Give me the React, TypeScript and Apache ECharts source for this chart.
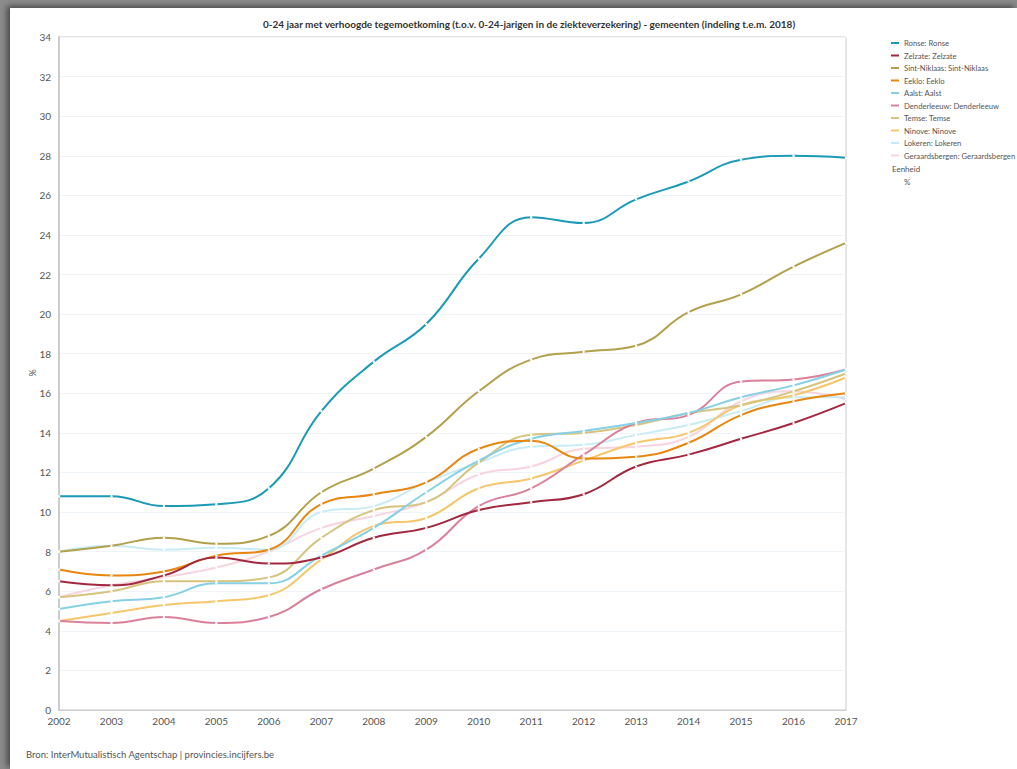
import React, { useEffect, useRef } from "react";
import * as echarts from "echarts";

const years = ["2002","2003","2004","2005","2006","2007","2008","2009","2010","2011","2012","2013","2014","2015","2016","2017"];

const ronse = [10.8, 10.8, 10.3, 10.4, 11.2, 15.1, 17.6, 19.5, 22.8, 24.9, 24.6, 25.8, 26.7, 27.8, 28.0, 27.9];
const zelzate = [6.5, 6.3, 6.8, 7.7, 7.4, 7.7, 8.7, 9.2, 10.1, 10.5, 10.9, 12.3, 12.9, 13.7, 14.5, 15.5];
const sintNiklaas = [8.0, 8.3, 8.7, 8.4, 8.8, 11.0, 12.2, 13.8, 16.1, 17.7, 18.1, 18.4, 20.1, 21.0, 22.4, 23.6];
const eeklo = [7.1, 6.8, 7.0, 7.8, 8.1, 10.4, 10.9, 11.5, 13.2, 13.6, 12.7, 12.8, 13.5, 14.9, 15.6, 16.0];
const aalst = [5.1, 5.5, 5.7, 6.4, 6.4, 7.8, 9.2, 11.0, 12.6, 13.7, 14.1, 14.5, 15.0, 15.8, 16.4, 17.2];
const denderleeuw = [4.5, 4.4, 4.7, 4.4, 4.7, 6.1, 7.1, 8.1, 10.3, 11.2, 12.9, 14.5, 14.9, 16.6, 16.7, 17.2];
const temse = [5.7, 6.0, 6.5, 6.5, 6.7, 8.7, 10.1, 10.5, 12.5, 13.9, 14.0, 14.4, 15.0, 15.4, 16.1, 17.0];
const ninove = [4.5, 4.9, 5.3, 5.5, 5.8, 7.6, 9.3, 9.7, 11.2, 11.7, 12.6, 13.5, 14.0, 15.4, 15.9, 16.8];
const lokeren = [8.0, 8.3, 8.1, 8.2, 8.1, 10.0, 10.3, 11.5, 12.5, 13.3, 13.4, 13.9, 14.4, 15.1, 15.8, 15.8];
const geraardsbergen = [5.7, 6.3, 6.7, 7.2, 8.0, 9.2, 9.8, 10.5, 11.9, 12.3, 13.2, 13.3, 13.8, 15.6, 16.1, 15.7];

const seriesNames = [
  "Ronse: Ronse",
  "Zelzate: Zelzate",
  "Sint-Niklaas: Sint-Niklaas",
  "Eeklo: Eeklo",
  "Aalst: Aalst",
  "Denderleeuw: Denderleeuw",
  "Temse: Temse",
  "Ninove: Ninove",
  "Lokeren: Lokeren",
  "Geraardsbergen: Geraardsbergen",
];
const seriesData = [ronse, zelzate, sintNiklaas, eeklo, aalst, denderleeuw, temse, ninove, lokeren, geraardsbergen];
const colors = ["#1a9ab6", "#a3283f", "#b2a04a", "#e8860f", "#86d0e6", "#d9809a", "#d6c47e", "#f6c66a", "#c8ecf5", "#f8d4de"];

const title = "0-24 jaar met verhoogde tegemoetkoming (t.o.v. 0-24-jarigen in de ziekteverzekering) - gemeenten (indeling t.e.m. 2018)";
const source = "Bron: InterMutualistisch Agentschap | provincies.incijfers.be";
const yName = "%";

const FONT = "Lato, 'Open Sans', sans-serif";

export default function App() {
  const ref = useRef<HTMLDivElement>(null);
  useEffect(() => {
    if (!ref.current) return;
    const chart = echarts.init(ref.current, undefined, { renderer: "svg" });
    chart.setOption({
      animation: false,
      backgroundColor: "#ffffff",
      textStyle: { fontFamily: FONT },
      title: {
        text: title,
        left: 514,
        top: 6,
        textAlign: "center",
        textStyle: { fontSize: 10, fontWeight: "bold", color: "#333", fontFamily: FONT },
      },
      grid: { left: 49, right: 171, top: 29, bottom: 59, show: true, borderColor: "#cccccc", borderWidth: 1, backgroundColor: "transparent" },
      legend: {
        orient: "vertical",
        left: 881,
        top: 31,
        padding: 0,
        itemWidth: 8,
        itemHeight: 2,
        itemGap: 4.5,
        icon: "rect",
        textStyle: { fontSize: 7.7, color: "#555", fontFamily: FONT },
        data: seriesNames.map((n, i) => ({ name: n, itemStyle: { color: colors[i] } })),
      },
      graphic: [
        { type: "text", left: 882, top: 157, style: { text: "Eenheid", fontSize: 8, fill: "#555", fontFamily: FONT } },
        { type: "text", left: 894, top: 170, style: { text: "%", fontSize: 8, fill: "#555", fontFamily: FONT } },
        { type: "text", left: 16, top: 741, style: { text: source, fontSize: 9.5, fill: "#555", fontFamily: FONT } },
        {
          type: "text",
          x: 22,
          y: 365,
          rotation: Math.PI / 2,
          style: { text: yName, fontSize: 9, fill: "#555", fontFamily: FONT, align: "center", verticalAlign: "middle" },
        },
      ],
      xAxis: {
        type: "category",
        data: years,
        boundaryGap: false,
        axisLine: { show: true, lineStyle: { color: "#cccccc" } },
        axisTick: { show: false },
        axisLabel: { fontSize: 10, color: "#555", margin: 6, fontFamily: FONT },
        splitLine: { show: false },
      },
      yAxis: {
        type: "value",
        min: 0,
        max: 34,
        interval: 2,
        axisLine: { show: true, lineStyle: { color: "#cccccc", width: 2 } },
        axisTick: { show: false },
        axisLabel: { fontSize: 10, color: "#555", margin: 8, fontFamily: FONT },
        splitLine: { show: true, lineStyle: { color: "#eef4f8", width: 1 } },
      },
      series: seriesNames.map((n, i) => ({
        name: n,
        type: "line",
        data: seriesData[i],
        smooth: 0.45,
        symbol: "circle",
        symbolSize: 2.5,
        showSymbol: true,
        z: 20 - i,
        lineStyle: { color: colors[i], width: 2 },
        itemStyle: { color: "#ffffff", borderWidth: 0 },
        emphasis: { disabled: true },
      })),
    });
    return () => chart.dispose();
  }, []);
  return (
    <div style={{ position: "fixed", left: 0, top: 0, width: 1017, height: 769, background: "#8c8c8c", overflow: "hidden" }}>
      <div style={{ position: "absolute", left: 10, top: 8, width: 1007, height: 761, background: "#fff", boxShadow: "-3px -2px 6px rgba(0,0,0,0.5)" }}>
        <div ref={ref} style={{ width: 1007, height: 761 }} />
      </div>
    </div>
  );
}
